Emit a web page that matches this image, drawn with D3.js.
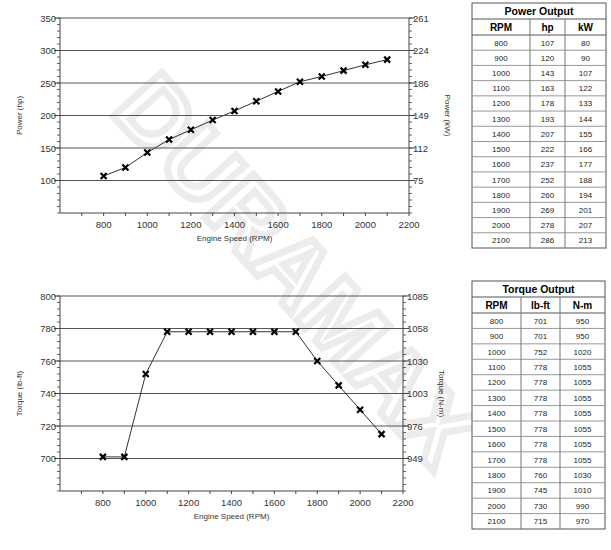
<!DOCTYPE html>
<html><head><meta charset="utf-8">
<script src="https://cdn.jsdelivr.net/npm/d3@7"></script>
<style>body{margin:0;background:#fff;font-family:Arial,"Liberation Sans",sans-serif}</style>
</head><body><svg id="c" width="611" height="550"></svg>
<script>
const rpm = [800,900,1000,1100,1200,1300,1400,1500,1600,1700,1800,1900,2000,2100];
const hp = [107,120,143,163,178,193,207,222,237,252,260,269,278,286];
const kw = [80,90,107,122,133,144,155,166,177,188,194,201,207,213];
const lbft = [701,701,752,778,778,778,778,778,778,778,760,745,730,715];
const nm = [950,950,1020,1055,1055,1055,1055,1055,1055,1055,1030,1010,990,970];
const xTicks = [800,1000,1200,1400,1600,1800,2000,2200];
const hpTicks = [100,150,200,250,300,350];
const kwTickLabels = ["75","112","149","186","224","261"];
const tqTicks = [700,720,740,760,780,800];
const nmTickLabels = ["949","976","1003","1030","1058","1085"];

const svg = d3.select("#c");

svg.append("text").attr("transform","translate(290,275) rotate(48)")
  .attr("text-anchor","middle").attr("dominant-baseline","middle")
  .attr("font-size",95).attr("font-weight","bold").attr("font-family","Arial")
  .attr("fill","none").attr("stroke","#ececec").attr("stroke-width",7)
  .text("DURAMAX");

function chart(o){
  const g = svg.append("g");
  const x = d3.scaleLinear().domain([600,2200]).range([o.x0,o.x1]);
  const y = d3.scaleLinear().domain(o.yDom).range([o.y1,o.y0]);
  g.selectAll(".gl").data(o.ticks).enter().append("line")
    .attr("x1",o.x0).attr("x2",o.x1).attr("y1",d=>y(d)).attr("y2",d=>y(d))
    .attr("stroke","#555").attr("stroke-width",1);
  const minor = d3.range(o.yDom[0], o.yDom[1]+0.01, o.minor);
  [[o.x0,-1],[o.x1,1]].forEach(([xx,s])=>{
    g.selectAll(null).data(minor).enter().append("line")
      .attr("x1",xx).attr("x2",xx+s*3).attr("y1",d=>y(d)).attr("y2",d=>y(d)).attr("stroke","#666");
    g.selectAll(null).data(o.ticks).enter().append("line")
      .attr("x1",xx).attr("x2",xx+s*6).attr("y1",d=>y(d)).attr("y2",d=>y(d)).attr("stroke","#444");
  });
  g.append("line").attr("x1",o.x0).attr("x2",o.x0).attr("y1",o.y0).attr("y2",o.y1).attr("stroke","#444");
  g.append("line").attr("x1",o.x1).attr("x2",o.x1).attr("y1",o.y0).attr("y2",o.y1).attr("stroke","#444");
  g.append("line").attr("x1",o.x0).attr("x2",o.x1).attr("y1",o.y1).attr("y2",o.y1).attr("stroke","#444");
  g.selectAll(null).data(d3.range(700,2201,100)).enter().append("line")
    .attr("x1",d=>x(d)).attr("x2",d=>x(d)).attr("y1",o.y1).attr("y2",o.y1+3).attr("stroke","#444");
  g.selectAll(null).data(xTicks).enter().append("text")
    .attr("x",d=>x(d)).attr("y",o.y1+15).attr("text-anchor","middle").attr("font-size",9.5).attr("fill","#333").text(d=>d);
  g.selectAll(null).data(o.ticks).enter().append("text")
    .attr("x",o.x0-4).attr("y",d=>y(d)+3.5).attr("text-anchor","end").attr("font-size",9.5).attr("fill","#333").text(d=>d);
  g.selectAll(null).data(o.ticks).enter().append("text")
    .attr("x",o.x1+4).attr("y",d=>y(d)+3.5).attr("font-size",9.5).attr("fill","#333").text((d,i)=>o.rLabels[i]);
  g.append("text").attr("x",(o.x0+o.x1)/2).attr("y",o.y1+28).attr("text-anchor","middle")
    .attr("font-size",8).attr("fill","#333").text("Engine Speed (RPM)");
  const ym=(o.y0+o.y1)/2;
  g.append("text").attr("transform",`translate(${o.x0-38},${ym}) rotate(-90)`).attr("text-anchor","middle")
    .attr("font-size",8).attr("fill","#333").text(o.lTitle);
  g.append("text").attr("transform",`translate(${o.x1+36},${ym}) rotate(90)`).attr("text-anchor","middle")
    .attr("font-size",8).attr("fill","#333").text(o.rTitle);
  const line = d3.line().x((d,i)=>x(rpm[i])).y(d=>y(d));
  g.append("path").attr("d",line(o.vals)).attr("fill","none").attr("stroke","#333").attr("stroke-width",1);
  const s=3;
  g.selectAll(null).data(o.vals).enter().append("path")
    .attr("d",(d,i)=>{const cx=x(rpm[i]),cy=y(d);return `M${cx-s},${cy-s}L${cx+s},${cy+s}M${cx-s},${cy+s}L${cx+s},${cy-s}`;})
    .attr("stroke","#000").attr("stroke-width",2.2);
}
chart({x0:60,x1:409,y0:18,y1:213,yDom:[50,350],ticks:hpTicks,minor:10,rLabels:kwTickLabels,
  vals:hp,lTitle:"Power (hp)",rTitle:"Power (kW)"});
chart({x0:60,x1:403,y0:296,y1:491,yDom:[680,800],ticks:tqTicks,minor:4,rLabels:nmTickLabels,
  vals:lbft,lTitle:"Torque (lb-ft)",rTitle:"Torque (N-m)"});

function table(o){
  const g = svg.append("g");
  const n = rpm.length;
  const rh = (o.y1-o.hy)/n;
  g.append("rect").attr("x",o.cols[0]).attr("y",o.y0).attr("width",o.cols[3]-o.cols[0]).attr("height",o.y1-o.y0)
    .attr("fill","#fff").attr("stroke","#555");
  g.append("text").attr("x",(o.cols[0]+o.cols[3])/2).attr("y",o.y0+12).attr("text-anchor","middle")
    .attr("font-size",10.5).attr("font-weight","bold").text(o.title);
  [o.ty, o.hy].forEach(yy=>g.append("line").attr("x1",o.cols[0]).attr("x2",o.cols[3]).attr("y1",yy).attr("y2",yy).attr("stroke","#555"));
  for(let i=1;i<n;i++) g.append("line").attr("x1",o.cols[0]).attr("x2",o.cols[3]).attr("y1",o.hy+i*rh).attr("y2",o.hy+i*rh).attr("stroke","#999");
  [1,2].forEach(c=>g.append("line").attr("x1",o.cols[c]).attr("x2",o.cols[c]).attr("y1",o.ty).attr("y2",o.y1).attr("stroke","#777"));
  const cx=[0,1,2].map(c=>(o.cols[c]+o.cols[c+1])/2);
  o.heads.forEach((h,c)=>g.append("text").attr("x",cx[c]).attr("y",o.ty+12).attr("text-anchor","middle")
    .attr("font-size",10).attr("font-weight","bold").text(h));
  [rpm,o.a,o.b].forEach((arr,c)=>g.selectAll(null).data(arr).enter().append("text")
    .attr("x",cx[c]).attr("y",(d,i)=>o.hy+i*rh+rh/2+3).attr("text-anchor","middle").attr("font-size",8).attr("fill","#222").text(d=>d));
}
table({cols:[472,530,565,606],y0:3,ty:19,hy:35,y1:248,title:"Power Output",heads:["RPM","hp","kW"],a:hp,b:kw});
table({cols:[472,521,560,605],y0:281,ty:297,hy:313,y1:529,title:"Torque Output",heads:["RPM","lb-ft","N-m"],a:lbft,b:nm});
</script></body></html>
